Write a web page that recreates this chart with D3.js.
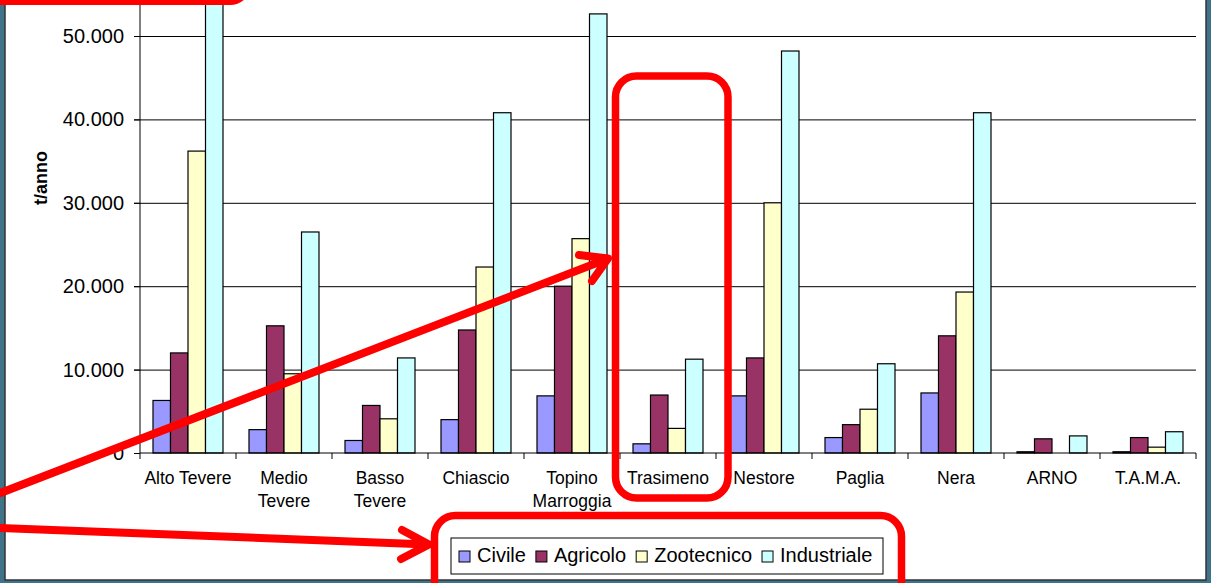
<!DOCTYPE html>
<html>
<head>
<meta charset="utf-8">
<script src="https://cdn.jsdelivr.net/npm/d3@7"></script>
<style>
  html, body { margin: 0; padding: 0; background: #3f7389; overflow: hidden; }
  svg { display: block; font-family: "Liberation Sans", Arial, sans-serif; }
</style>
</head>
<body>
<svg id="chart" width="1211" height="583"></svg>
<script>
// bacini e serie (t/anno)
const categories = ["Alto Tevere", "Medio\nTevere", "Basso\nTevere", "Chiascio", "Topino\nMarroggia",
	"Trasimeno", "Nestore", "Paglia", "Nera", "ARNO", "T.A.M.A."];
const series = ["Civile", "Agricolo", "Zootecnico", "Industriale"];
const civile      = [6300, 2800, 1500, 4000, 6850, 1100, 6850, 1850, 7200, 150, 150];
const agricolo    = [12000, 15250, 5700, 14750, 20000, 6950, 11400, 3400, 14050, 1700, 1850];
const zootecnico  = [36200, 9500, 4100, 22300, 25700, 2950, 30000, 5250, 19300, 0, 700];
const industriale = [58000, 26500, 11400, 40800, 52650, 11250, 48200, 10700, 40800, 2050, 2550];
const yTicks = [0, 10000, 20000, 30000, 40000, 50000];

const colors = ["#9999ff", "#993366", "#ffffcc", "#ccffff"];
const values = [civile, agricolo, zootecnico, industriale];

const data = categories.map((c, i) => ({
	cat: c,
	vals: series.map((s, j) => ({ serie: s, value: values[j][i] }))
}));

const svg = d3.select("#chart");

// area del grafico (bianca)
svg.append("rect")
	.attr("x", 5).attr("y", -10)
	.attr("width", 1201).attr("height", 590)
	.attr("fill", "#ffffff")
	.attr("stroke", "#333").attr("stroke-width", 1.5);

const left = 140, right = 1196, zeroY = 453;

const x = d3.scaleBand()
	.domain(categories)
	.range([left, right])
	.padding(0);

const xs = d3.scaleBand()
	.domain(series)
	.range([0, x.bandwidth()])
	.paddingInner(0)
	.paddingOuter(0.743);

const y = d3.scaleLinear()
	.domain([0, 60000])
	.range([zeroY, zeroY - 6 * 83.4]);

const it = d3.formatLocale({ decimal: ",", thousands: ".", grouping: [3], currency: ["", ""] });
const fmt = it.format(",");

// griglia
svg.append("g")
	.attr("transform", `translate(${left - 6},0)`)
	.call(d3.axisRight(y).tickValues(yTicks.slice(1)).tickSize(right - left + 6).tickFormat(""))
	.call(g => g.select(".domain").remove())
	.selectAll("line").attr("stroke", "#000");

// asse y con etichette
svg.append("g")
	.attr("transform", `translate(${left},0)`)
	.call(d3.axisLeft(y).tickValues(yTicks).tickSize(6).tickPadding(10).tickFormat(fmt))
	.attr("font-family", "Liberation Sans, Arial, sans-serif")
	.attr("font-size", 20)
	.call(g => g.select(".domain").attr("d", `M0,${zeroY}V-20`).attr("stroke", "#000"))
	.call(g => g.selectAll("line").attr("stroke", "#000"))
	.selectAll("text")
	.attr("fill", "#000");

// titolo asse y
svg.append("text")
	.attr("transform", "translate(47,178) rotate(-90)")
	.attr("text-anchor", "middle")
	.style("font-size", "18px")
	.style("font-weight", "bold")
	.text("t/anno");

// barre
const groups = svg.selectAll(".grp")
	.data(data)
	.enter().append("g")
	.attr("class", "grp")
	.attr("transform", d => `translate(${x(d.cat)},0)`);

groups.selectAll("rect")
	.data(d => d.vals)
	.enter().append("rect")
	.attr("x", d => xs(d.serie))
	.attr("width", xs.bandwidth())
	.attr("y", d => y(d.value))
	.attr("height", d => y(0) - y(d.value))
	.attr("fill", d => colors[series.indexOf(d.serie)])
	.attr("stroke", d => d.value > 0 ? "#000" : "none")
	.attr("stroke-width", 1.2);

// asse x
const xAxis = svg.append("g").attr("transform", `translate(0,${zeroY})`);
xAxis.append("line")
	.attr("x1", left).attr("x2", right)
	.attr("stroke", "#000");
xAxis.selectAll(".tk")
	.data(categories.map(c => x(c)).concat([right]))
	.enter().append("line")
	.attr("x1", d => d).attr("x2", d => d)
	.attr("y1", 0).attr("y2", 6)
	.attr("stroke", "#000");

const lbl = xAxis.selectAll(".lbl")
	.data(categories)
	.enter().append("text")
	.attr("text-anchor", "middle")
	.attr("x", d => x(d) + x.bandwidth() / 2)
	.style("font-size", "17.5px");
lbl.selectAll("tspan")
	.data(d => d.split("\n"))
	.enter().append("tspan")
	.attr("x", function () { return this.parentNode.getAttribute("x"); })
	.attr("y", (d, i) => 31 + i * 23)
	.text(d => d);

// legenda
const legend = svg.append("g");
legend.append("rect")
	.attr("x", 451).attr("y", 538)
	.attr("width", 432).attr("height", 36)
	.attr("fill", "#fff").attr("stroke", "#000");
let lx = 459;
series.forEach((s, i) => {
	legend.append("rect")
		.attr("x", lx).attr("y", 551)
		.attr("width", 11).attr("height", 11)
		.attr("fill", colors[i]).attr("stroke", "#000");
	const t = legend.append("text")
		.attr("x", lx + 18).attr("y", 562)
		.style("font-size", "20px")
		.text(s);
	lx += 18 + t.node().getComputedTextLength() + 10;
});

// annotazioni rosse
const red = svg.append("g")
	.attr("fill", "none")
	.attr("stroke", "#ff0000")
	.attr("stroke-linecap", "round")
	.attr("stroke-linejoin", "round");

red.append("rect")
	.attr("x", -60).attr("y", -60).attr("width", 308).attr("height", 61.5)
	.attr("rx", 18).attr("stroke-width", 7);
red.append("rect")
	.attr("x", 615.5).attr("y", 76).attr("width", 112.5).attr("height", 422)
	.attr("rx", 21).attr("stroke-width", 7.5);
red.append("rect")
	.attr("x", 434.5).attr("y", 515.5).attr("width", 467).attr("height", 120)
	.attr("rx", 21).attr("stroke-width", 7.5);

red.append("path")
	.attr("d", "M-10,497L607,259M579,255L608,258.5L592,281")
	.attr("stroke-width", 8);
red.append("path")
	.attr("d", "M-10,527.5L428,544.5M402,530L429,544.5L401,559")
	.attr("stroke-width", 8);
</script>
</body>
</html>
